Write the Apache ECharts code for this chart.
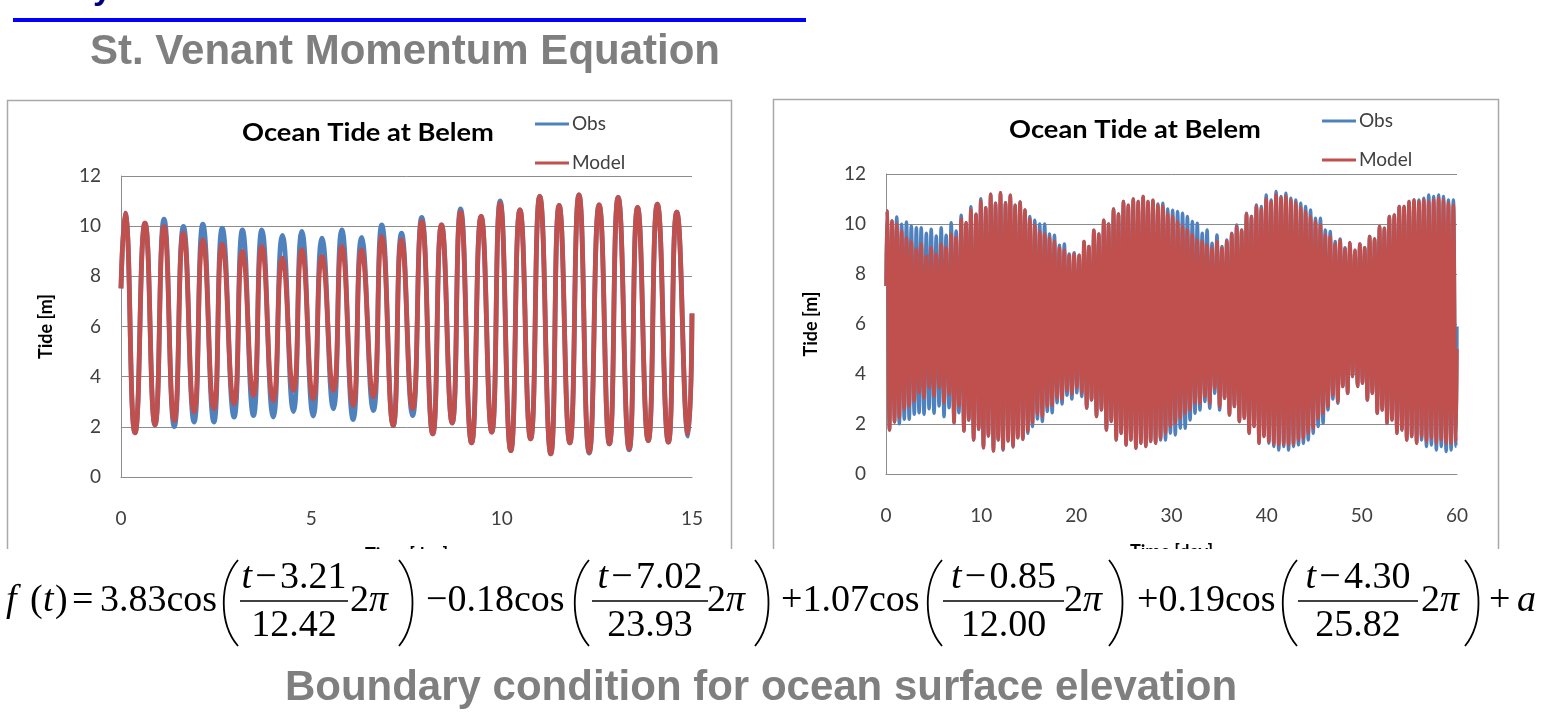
<!DOCTYPE html>
<html>
<head>
<meta charset="utf-8">
<script src="https://cdn.jsdelivr.net/npm/echarts@6/dist/echarts.min.js"></script>
<style>
html,body{margin:0;padding:0;background:#fff;}
#chart{width:1558px;height:719px;}
</style>
</head>
<body>
<div id="chart"></div>
<script>
// ---------------- DATA ----------------
// time (days) of each high water and each low water
const peakT = [0.105,0.63,1.13,1.64,2.15,2.66,3.19,3.70,4.24,4.75,5.28,5.80,6.32,6.85,7.37,7.90,8.42,8.92,9.46,9.96,10.48,11.00,11.51,12.03,12.56,13.06,13.57,14.09,14.60,
15.11,15.63,16.15,16.67,17.18,17.70,18.22,18.74,19.25,19.77,20.29,20.81,21.32,21.84,22.36,22.88,23.39,23.91,24.43,24.95,25.46,25.98,26.50,27.02,27.53,28.05,28.57,29.09,29.60,30.12,30.64,31.16,31.67,32.19,32.71,33.23,33.74,34.26,34.78,35.30,35.81,36.33,36.85,37.37,37.88,38.40,38.92,39.44,39.95,40.47,40.99,41.51,42.02,42.54,43.06,43.58,44.09,44.61,45.13,45.65,46.16,46.68,47.20,47.72,48.23,48.75,49.27,49.79,50.30,50.82,51.34,51.86,52.37,52.89,53.41,53.93,54.44,54.96,55.48,56.00,56.51,57.03,57.55,58.07,58.58,59.10,59.62];
const troughT = [0.368,0.893,1.40,1.92,2.44,2.97,3.48,4.00,4.53,5.05,5.58,6.10,6.63,7.15,7.66,8.19,8.70,9.21,9.74,10.24,10.76,11.29,11.79,12.30,12.83,13.35,13.85,14.38,14.90,
15.39,15.91,16.43,16.95,17.46,17.98,18.50,19.02,19.53,20.05,20.57,21.09,21.60,22.12,22.64,23.16,23.67,24.19,24.71,25.23,25.74,26.26,26.78,27.30,27.81,28.33,28.85,29.37,29.88,30.40,30.92,31.44,31.95,32.47,32.99,33.51,34.02,34.54,35.06,35.58,36.09,36.61,37.13,37.65,38.16,38.68,39.20,39.72,40.23,40.75,41.27,41.79,42.30,42.82,43.34,43.86,44.37,44.89,45.41,45.93,46.44,46.96,47.48,48.00,48.51,49.03,49.55,50.07,50.58,51.10,51.62,52.14,52.65,53.17,53.69,54.21,54.72,55.24,55.76,56.28,56.79,57.31,57.83,58.35,58.86,59.38,59.90];

// Obs: high / low water levels [m]
const obsPeak = [10.52,10.12,10.28,9.99,10.08,9.92,9.85,9.85,9.63,9.79,9.52,9.85,9.55,10.05,9.72,10.35,10.05,10.69,10.39,11.01,10.65,11.19,10.83,11.25,10.85,11.15,10.75,10.88,10.56,
10.3,10.15,10.0,10.0,9.6,9.55,9.15,9.2,8.8,8.85,8.75,
9.3,9.1,9.75,9.6,10.15,10.0,10.6,10.4,10.9,10.75,11.0,10.9,11.1,10.9,10.95,
10.8,10.83,10.6,10.55,10.5,10.43,10.3,10.1,10.03,9.63,9.76,9.23,9.56,9.1,9.36,
9.63,9.96,9.76,10.43,10.3,10.76,10.7,11.16,
10.96,11.3,11.1,11.23,11.03,10.96,10.83,10.7,10.56,10.23,10.23,9.76,9.7,
9.3,9.4,9.05,9.25,8.95,9.2,9.05,9.5,9.4,9.9,9.83,10.3,10.36,10.7,10.7,10.9,10.96,
10.96,11.03,11.16,11.1,11.16,11.1,10.96,10.96];
const obsTrough = [1.76,2.08,2.01,2.19,2.19,2.39,2.45,2.39,2.61,2.43,2.72,2.29,2.65,2.05,2.45,1.72,2.15,1.36,1.79,1.05,1.52,0.92,1.36,0.95,1.32,1.08,1.45,1.39,1.63,
1.9,2.2,2.1,2.5,2.45,2.85,2.8,3.15,3.0,3.25,3.1,
2.63,2.96,2.3,2.56,1.76,2.1,1.36,1.63,1.16,1.36,1.03,1.23,1.1,1.3,1.23,
1.36,1.36,1.63,1.56,1.83,1.83,2.16,2.43,2.56,2.9,2.63,3.23,2.56,3.03,2.36,
2.7,2.1,2.23,1.63,1.9,1.23,1.5,1.23,
1.1,0.96,1.1,0.96,1.1,1.16,1.23,1.36,1.63,1.9,2.03,2.56,3.0,
2.83,3.5,3.23,3.9,3.5,3.63,2.96,3.23,2.43,2.56,2.03,2.16,1.63,1.76,1.36,1.5,1.23,
1.36,1.1,1.16,0.96,1.1,0.9,0.96,1.1];

// Model: high / low water levels [m]
const modelPeak = [10.52,10.12,9.99,9.72,9.45,9.28,8.99,9.19,8.72,9.05,8.79,9.19,9.05,9.59,9.45,10.19,10.05,10.56,10.39,10.92,10.65,11.19,10.83,11.25,10.85,11.15,10.75,10.88,10.56,
10.2,9.95,9.7,9.6,9.45,9.3,9.05,8.95,8.75,8.8,8.75,
9.3,9.1,9.75,9.6,10.15,10.0,10.6,10.4,10.9,10.75,11.0,10.9,11.1,10.9,10.95,
10.75,10.7,10.4,10.3,10.1,9.9,9.76,9.56,9.36,9.3,9.16,9.03,9.3,9.03,9.3,
9.6,9.9,9.75,10.4,10.3,10.7,10.6,11.0,
10.9,11.16,11.05,11.1,10.95,10.85,10.65,10.5,10.3,10.1,9.96,9.56,9.5,
9.2,9.35,9.0,9.25,8.95,9.2,9.05,9.5,9.4,9.9,9.83,10.3,10.36,10.7,10.7,10.9,10.96,
10.9,10.96,10.9,10.96,11.03,10.96,10.83,10.76];
const modelTrough = [1.76,2.08,2.25,2.59,2.72,2.92,3.25,3.05,3.45,3.12,3.45,2.85,3.19,2.05,2.72,1.72,2.16,1.36,1.79,1.05,1.52,0.92,1.36,0.99,1.32,1.12,1.45,1.39,1.72,
2.05,2.4,2.3,2.7,2.75,3.05,3.0,3.35,3.2,3.45,3.25,
2.65,2.96,2.3,2.56,1.76,2.1,1.36,1.63,1.16,1.36,1.03,1.23,1.1,1.3,1.23,
1.43,1.63,1.9,2.03,2.23,2.43,2.56,2.83,2.83,3.1,2.83,3.43,2.7,3.03,2.36,
2.7,2.1,2.23,1.63,1.9,1.23,1.5,1.3,
1.2,1.16,1.2,1.16,1.2,1.36,1.43,1.63,1.83,2.2,2.43,2.7,3.16,
2.9,3.5,3.23,3.9,3.5,3.63,2.96,3.23,2.43,2.56,2.03,2.16,1.63,1.76,1.36,1.5,1.23,
1.5,1.3,1.43,1.23,1.36,1.23,1.23,1.3];

// first and last readings
const startLevel = {obs: 7.52, model: 7.52};
const leftEnd = {t: 15, obs: 6.52, model: 6.52};
const rightEnd = {t: 60, obs: 5.9, model: 5.0};

const seriesNames = ['Obs', 'Model'];
const chartTitle = 'Ocean Tide at Belem';
const yTicks = [0, 2, 4, 6, 8, 10, 12];
const xTicksLeft = [0, 5, 10, 15];
const xTicksRight = [0, 10, 20, 30, 40, 50, 60];

// ---------------- BUILD ----------------
function build(peak, trough, start, endT, endV) {
  const d = [[0, start]];
  for (let i = 0; i < peakT.length; i++) {
    if (peakT[i] < endT) d.push([peakT[i], peak[i]]);
    if (troughT[i] < endT) d.push([troughT[i], trough[i]]);
  }
  d.push([endT, endV]);
  return d;
}
const leftObs = build(obsPeak, obsTrough, startLevel.obs, leftEnd.t, leftEnd.obs);
const leftModel = build(modelPeak, modelTrough, startLevel.model, leftEnd.t, leftEnd.model);
const rightObs = build(obsPeak, obsTrough, startLevel.obs, rightEnd.t, rightEnd.obs);
const rightModel = build(modelPeak, modelTrough, startLevel.model, rightEnd.t, rightEnd.model);

const BLUE = '#4F81BD', RED = '#C0504D', GRID = '#8c8c8c';
const LABEL = {color: '#404040', fontFamily: 'Lato', fontSize: 19};
const NAME = {color: '#000', fontFamily: 'Lato', fontWeight: 'bold', fontSize: 18};

function xAxis(gi, ticks) {
  return {
    type: 'value', gridIndex: gi, min: ticks[0], max: ticks[ticks.length - 1],
    interval: ticks[1] - ticks[0],
    name: 'Time [day]', nameLocation: 'middle', nameGap: 69, nameTextStyle: NAME,
    axisLine: {show: true, lineStyle: {color: GRID, width: 1}},
    axisTick: {show: false}, splitLine: {show: false},
    axisLabel: Object.assign({margin: 32}, LABEL)
  };
}
function yAxis(gi) {
  return {
    type: 'value', gridIndex: gi, min: yTicks[0], max: yTicks[yTicks.length - 1],
    interval: yTicks[1] - yTicks[0],
    name: 'Tide [m]', nameLocation: 'middle', nameGap: 66, nameTextStyle: NAME,
    axisLine: {show: true, lineStyle: {color: GRID, width: 1}},
    axisTick: {show: false},
    splitLine: {show: true, lineStyle: {color: GRID, width: 1}},
    axisLabel: Object.assign({margin: 20}, LABEL)
  };
}
function line(name, gi, data, color, width) {
  return {
    type: 'line', name: name, xAxisIndex: gi, yAxisIndex: gi, data: data,
    showSymbol: false, symbol: 'none', smooth: 0.55, clip: true,
    lineStyle: {color: color, width: width}, itemStyle: {color: color},
    animation: false, silent: true
  };
}

// ---------------- FORMULA LAYOUT ----------------
const SERIF = '"Liberation Serif","Times New Roman",serif';
const FS = 38, FY = 601, NY = 578, DY = 626;
const RICH = {i: {fontStyle: 'italic', fontFamily: SERIF, fontSize: FS, fill: '#000'}};
function ftext(txt, x, y, align) {
  return {type: 'text', x: x, y: y, z: 101,
    style: {text: txt, fill: '#000', fontFamily: SERIF, fontSize: FS,
      textAlign: align || 'left', textVerticalAlign: 'middle', rich: RICH}};
}
function paren(x0, x1, open) {
  const top = 560, bot = 646;
  const s = open ? x1 : x0, c = open ? x0 - 3 : x1 + 3;
  return {type: 'bezierCurve', z: 101,
    shape: {x1: s, y1: top, x2: s, y2: bot, cpx1: c, cpy1: top + 22, cpx2: c, cpy2: bot - 22},
    style: {stroke: '#000', lineWidth: 1.8, fill: null}};
}
function bar(x0, x1) {
  return {type: 'line', z: 101, shape: {x1: x0, y1: FY, x2: x1, y2: FY},
    style: {stroke: '#000', lineWidth: 1.6}};
}
const fracs = [
  {num: '{i|t}\u200A−\u200A3.21', den: '12.42', x0: 240, x1: 348},
  {num: '{i|t}\u200A−\u200A7.02', den: '23.93', x0: 592, x1: 708},
  {num: '{i|t}\u200A−\u200A0.85', den: '12.00', x0: 943, x1: 1064},
  {num: '{i|t}\u200A−\u200A4.30', den: '25.82', x0: 1298, x1: 1418}
];
const parens = [[222, 238, true], [399, 414, false], [573, 589, true], [755, 770, false],
  [926, 942, true], [1109, 1124, false], [1281, 1297, true], [1465, 1480, false]];
const mainPieces = [
  ['{i|f}', 6], ['(', 30], ['{i|t}', 43], [')', 55], ['=', 72], ['3.83cos', 100],
  ['2{i|π}', 350], ['−0.18cos', 426], ['2{i|π}', 707], ['+1.07cos', 781],
  ['2{i|π}', 1064], ['+0.19cos', 1137], ['2{i|π}', 1421], ['+', 1489], ['{i|a}', 1517]
];
const formula = [];
mainPieces.forEach(p => formula.push(ftext(p[0], p[1], FY)));
fracs.forEach(f => {
  const cx = (f.x0 + f.x1) / 2;
  formula.push(ftext(f.num, cx, NY, 'center'));
  formula.push(ftext(f.den, cx, DY, 'center'));
  formula.push(bar(f.x0, f.x1));
});
parens.forEach(p => formula.push(paren(p[0], p[1], p[2])));

const SANS = '"Liberation Sans",Arial,sans-serif';
const graphics = [
  {type: 'text', x: 93, y: -27, style: {text: 'y', fill: '#00007f', fontFamily: SANS, fontWeight: 'bold', fontSize: 34}},
  {type: 'rect', shape: {x: 13, y: 18, width: 793, height: 4}, style: {fill: '#0000ff'}},
  {type: 'text', x: 405, y: 52, style: {text: 'St. Venant Momentum Equation', fill: '#7f7f7f',
    fontFamily: SANS, fontWeight: 'bold', fontSize: 42, textAlign: 'center', textVerticalAlign: 'middle'}},
  {type: 'polyline', shape: {points: [[7.5, 560], [7.5, 100.5], [731.5, 100.5], [731.5, 560]]},
    style: {stroke: '#a9a9a9', lineWidth: 1.5, fill: null}},
  {type: 'polyline', shape: {points: [[773.5, 560], [773.5, 99.5], [1498.5, 99.5], [1498.5, 560]]},
    style: {stroke: '#a9a9a9', lineWidth: 1.5, fill: null}},
  {type: 'text', x: 368, y: 133, scaleX: 1.09, style: {text: chartTitle, fill: '#000', fontFamily: 'Lato', fontWeight: 'bold',
    fontSize: 25, textAlign: 'center', textVerticalAlign: 'middle'}},
  {type: 'text', x: 1135, y: 130, scaleX: 1.09, style: {text: chartTitle, fill: '#000', fontFamily: 'Lato', fontWeight: 'bold',
    fontSize: 25, textAlign: 'center', textVerticalAlign: 'middle'}},
  {type: 'rect', z: 100, shape: {x: 0, y: 549, width: 1558, height: 170}, style: {fill: '#fff'}},
  {type: 'text', x: 761, y: 688, z: 101, style: {text: 'Boundary condition for ocean surface elevation',
    fill: '#7f7f7f', fontFamily: SANS, fontWeight: 'bold', fontSize: 42, textAlign: 'center', textVerticalAlign: 'middle'}}
].concat(formula);

function legend(left, top) {
  return {data: seriesNames, left: left, top: top, orient: 'vertical', icon: 'rect', padding: 0,
    itemWidth: 34, itemHeight: 3, itemGap: 17,
    textStyle: {color: '#404040', fontFamily: 'Lato', fontSize: 19, lineHeight: 22, padding: [0, 0, 0, -2]},
    selectedMode: false};
}

const option = {
  backgroundColor: '#fff',
  animation: false,
  grid: [
    {left: 121, top: 176, width: 571, height: 301},
    {left: 886, top: 174, width: 571, height: 300}
  ],
  xAxis: [xAxis(0, xTicksLeft), xAxis(1, xTicksRight)],
  yAxis: [yAxis(0), yAxis(1)],
  legend: [legend(535, 113), legend(1322, 110)],
  series: [
    line(seriesNames[0], 0, leftObs, BLUE, 4.8),
    line(seriesNames[1], 0, leftModel, RED, 4.8),
    line(seriesNames[0], 1, rightObs, BLUE, 3.4),
    line(seriesNames[1], 1, rightModel, RED, 3.4)
  ],
  graphic: {elements: graphics}
};
const chart = echarts.init(document.getElementById('chart'), null, {renderer: 'canvas'});
chart.setOption(option);
</script>
</body>
</html>
